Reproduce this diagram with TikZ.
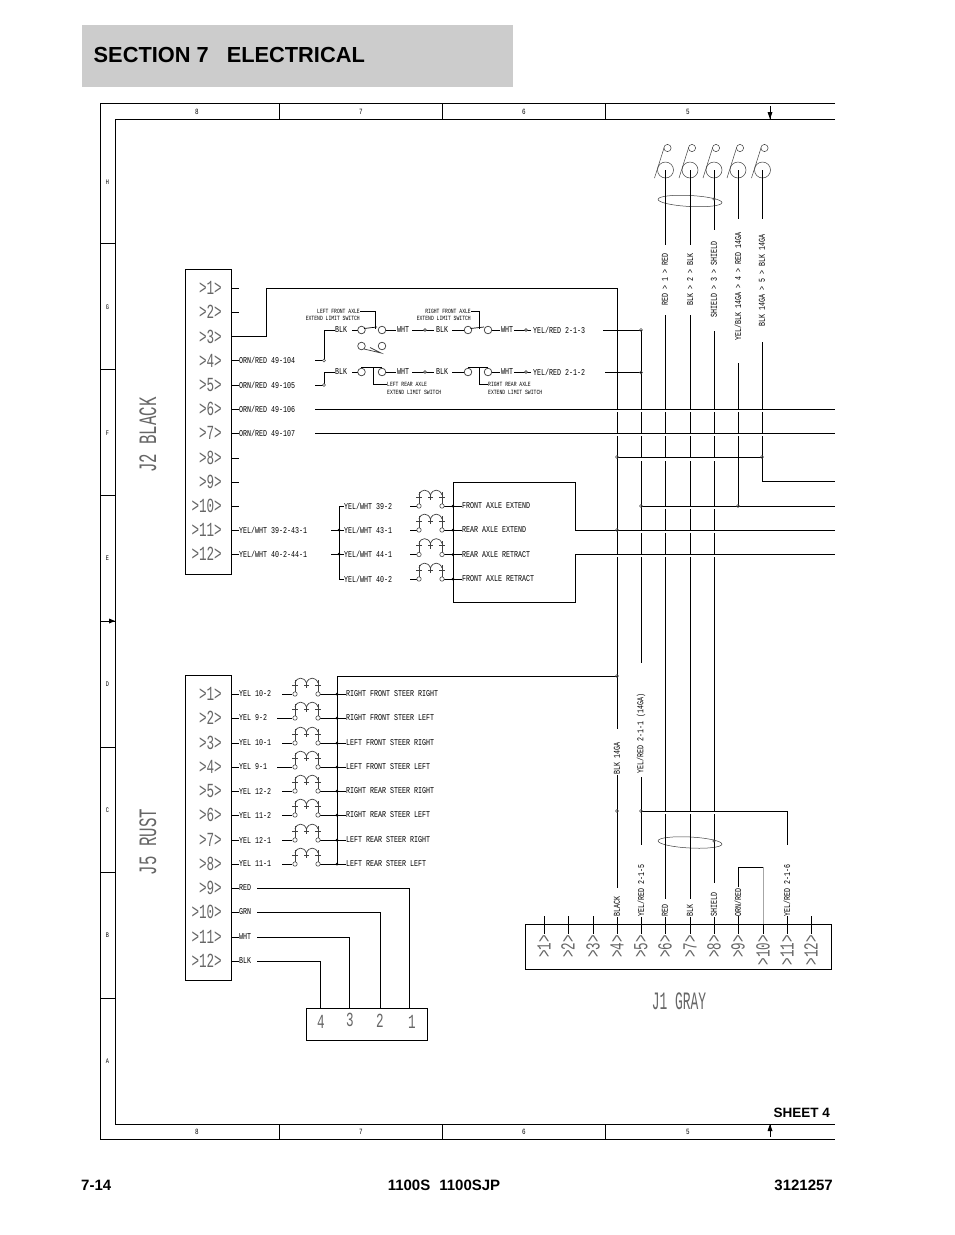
\documentclass[tikz,border=0pt]{standalone}
\usepackage{fontspec}
\setmainfont{Liberation Sans}
\newfontfamily\cadS[FakeStretch=0.74]{Liberation Mono}
\newfontfamily\cadP[FakeStretch=0.63]{Liberation Mono}
\tikzset{
  wire/.style={line width=0.9pt,black},
  frameline/.style={line width=0.9pt,black},
  halo/.style={line width=2.4pt,white},
  thinline/.style={line width=0.5pt,black!75},
  dotm/.style={line width=0.6pt,black!70,fill=white},
  lab/.style={inner sep=0pt,anchor=west,font=\cadS\fontsize{9}{9}\selectfont,text=black},
  labv/.style={inner sep=0pt,anchor=west,rotate=90,font=\cadS\fontsize{9}{9}\selectfont,text=black},
  tiny/.style={inner sep=0pt,font=\cadS\fontsize{6.4}{6.4}\selectfont,text=black},
  pinlab/.style={inner sep=0pt,anchor=east,font=\cadP\fontsize{20}{20}\selectfont,text=black!60},
  pinlabv/.style={inner sep=0pt,anchor=east,rotate=90,font=\cadP\fontsize{20}{20}\selectfont,text=black!60},
  biglab/.style={inner sep=0pt,font=\cadP\fontsize{25}{25}\selectfont,text=black!60},
  ticklab/.style={inner sep=0pt,font=\cadS\fontsize{8}{8}\selectfont,text=black},
  foot/.style={inner sep=0pt,font=\bfseries\fontsize{15}{15}\selectfont},
}
% coil symbol: #1 left x, #2 right x, #3 y
\newcommand{\coilsym}[3]{%
  \draw[thinline,line width=0.7pt] (#1,#3) -- (#1,#3-14) (#2,#3) -- (#2,#3-14)
    (#1-3,#3-9) -- (#1+3,#3-9) (#2-3,#3-9) -- (#2+3,#3-9);
  \draw[thinline,line width=0.7pt] (#1,#3-11) .. controls (#1+2,#3-17.5) and (#1+9,#3-17.5) .. ({(#1+#2)/2},#3-11)
     .. controls ({(#1+#2)/2+2},#3-17.5) and (#2-2,#3-17.5) .. (#2,#3-11);
  \draw[thinline,line width=0.7pt] ({(#1+#2)/2},#3-12) -- ({(#1+#2)/2},#3-6) ({(#1+#2)/2-2.5},#3-9) -- ({(#1+#2)/2+2.5},#3-9);
  \draw[dotm] (#1,#3) circle[radius=2.2pt] (#2,#3) circle[radius=2.2pt];
}
% terminal loop at the top: #1 x
\newcommand{\loopsym}[1]{%
  \draw[thinline] (#1,170) circle[radius=8pt] (#1+2,148) circle[radius=3.6pt];
  \draw[thinline] (#1-1.5,148) -- (#1-11,178);
}
\begin{document}
\begin{tikzpicture}[x=1pt,y=-1pt]
\useasboundingbox (0,0) rectangle (954,1235);
\fill[white] (0,0) rectangle (954,1235);
% header
\fill[black!20] (82,25) rectangle (513,87);
\node[inner sep=0pt,anchor=base west,font=\bfseries\fontsize{21.8}{22}\selectfont] (title) at (93.5,62.5) {SECTION 7\hspace{18pt}ELECTRICAL};
% footer
\node[foot,anchor=base west] (fpage) at (81,1190) {7-14};
\node[foot,anchor=base] (fmodel) at (444,1190) {1100S\hspace{9pt}1100SJP};
\node[foot,anchor=base east] (fnum) at (833,1190) {3121257};
\node[inner sep=0pt,anchor=base east,font=\bfseries\fontsize{13.5}{13.5}\selectfont] (sheet) at (830,1117) {SHEET 4};
% drawing frame
\draw[frameline] (835,103) -- (100,103) -- (100,1139) -- (835,1139);
\draw[frameline] (835,119) -- (115,119) -- (115,1124) -- (835,1124);
\foreach \x in {279,442,605}{\draw[frameline] (\x,103) -- (\x,119); \draw[frameline] (\x,1124) -- (\x,1139);}
\foreach \y in {243,369,495,621,747,872,998}{\draw[frameline] (100,\y) -- (115,\y);}
\draw[frameline] (770,106) -- (770,119);
\fill (767.5,112) -- (772.5,112) -- (770,119) -- cycle;
\draw[frameline] (770,1124) -- (770,1137);
\fill (767.5,1131) -- (772.5,1131) -- (770,1124) -- cycle;
\fill (115,621) -- (109,618.5) -- (109,623.5) -- cycle;
\foreach \x/\t in {197/8,361/7,524/6,688/5}{
  \node[ticklab] at (\x,111.5) {\t};
  \node[ticklab] at (\x,1131.5) {\t};
}
\foreach \y/\t in {182/H,307/G,433/F,558/E,684/D,810/C,935/B,1061/A}{
  \node[ticklab,font=\cadS\fontsize{7}{7}\selectfont] at (107.5,\y) {\t};
}
% J2 connector
\draw[frameline] (185,269) rectangle (231,574);
\foreach \n/\y in {1/288,2/312,3/336.5,4/360.5,5/385,6/409,7/433,8/458,9/482,10/506,11/530,12/554}{
  \node[pinlab] (jtwo\n) at (222,\y) {>\n>};
  \coordinate (jtwoS\n) at (231,\y);
  \coordinate (jtwoE\n) at (239,\y);
  \draw[wire] (jtwoS\n) -- (jtwoE\n);
}
\node[biglab,rotate=90] (jtwoname) at (148,435) {J2 BLACK};
\foreach \n/\t in {4/{ORN/RED 49-104},5/{ORN/RED 49-105},6/{ORN/RED 49-106},7/{ORN/RED 49-107},11/{YEL/WHT 39-2-43-1},12/{YEL/WHT 40-2-44-1}}{
  \node[lab] (jtwol\n) at (jtwoE\n) {\t};
}
% J5 connector
\draw[frameline] (185,675) rectangle (231,980);
\foreach \n/\y in {1/694,2/718,3/743,4/767,5/791,6/815,7/840,8/864,9/888,10/912,11/937,12/961}{
  \node[pinlab] (jfive\n) at (222,\y) {>\n>};
  \coordinate (jfiveS\n) at (231,\y);
  \coordinate (jfiveE\n) at (239,\y);
  \draw[wire] (jfiveS\n) -- (jfiveE\n);
}
\node[biglab,rotate=90] (jfivename) at (148,842) {J5 RUST};
% J5 solenoid rows
\coordinate (sb) at (337,676);
\foreach \n/\y/\s/\a/\b in {1/694/282/YEL 10-2/RIGHT FRONT STEER RIGHT,2/718/277/YEL 9-2/RIGHT FRONT STEER LEFT,3/743/282/YEL 10-1/LEFT FRONT STEER RIGHT,4/767/277/YEL 9-1/LEFT FRONT STEER LEFT,5/791/282/YEL 12-2/RIGHT REAR STEER RIGHT,6/815/282/YEL 11-2/RIGHT REAR STEER LEFT,7/840/282/YEL 12-1/LEFT REAR STEER RIGHT,8/864/282/YEL 11-1/LEFT REAR STEER LEFT}{
  \node[lab] (fl\n) at (239,\y) {\a};
  \node[lab] (fr\n) at (346,\y) {\b};
  \coordinate (fb\n) at (337,\y);
  \draw[wire] (\s,\y) -- (292,\y);
  \draw[wire] (320,\y) -- (fb\n) -- (fr\n.west);
  \fill (fb\n) circle[radius=1.5pt];
  \coilsym{295}{318}{\y}
}
\draw[wire] (fb8) -- (sb) -- (617,676);
% J5 lower wires to 4-way connector
\draw[frameline] (306,1008) rectangle (427,1040);
\foreach \x/\y/\t in {321/1022/4,350/1020/3,380/1021/2,412/1022/1}{
  \node[inner sep=0pt,font=\cadP\fontsize{20}{20}\selectfont,text=black!60] (cf\t) at (\x,\y) {\t};
}
\foreach \n/\y/\x/\t in {9/888/409/RED,10/912/380/GRN,11/937/349/WHT,12/961/320/BLK}{
  \node[lab] (jfl\n) at (239,\y) {\t};
  \draw[wire] (257,\y) -- (\x,\y) -- (\x,1008);
}
% switches
\coordinate (sa) at (324,360.5);
\coordinate (sc) at (324,385);
\draw[wire] (315,360.5) -- (sa) -- (324,330) -- (335,330);
\draw[wire] (315,385) -- (sc) -- (324,372) -- (335,372);
\draw[dotm] (sa) circle[radius=1.5pt] (sc) circle[radius=1.5pt];
\foreach \y/\m in {330/3,372/2}{
  \node[lab] (ba\y) at (335,\y) {BLK};
  \node[lab] (wa\y) at (397,\y) {WHT};
  \node[lab] (bb\y) at (436,\y) {BLK};
  \node[lab] (wb\y) at (501,\y) {WHT};
  \node[lab] (yr\y) at (533,\y) {YEL/RED 2-1-\m};
  \draw[wire] (352,\y) -- (358,\y) (386,\y) -- (395.5,\y);
  \draw[wire] (412,\y) -- (433.5,\y);
  \draw[dotm] (425,\y) circle[radius=1.4pt];
  \draw[wire] (452,\y) -- (464,\y) (492,\y) -- (500,\y);
  \draw[wire] (514,\y) -- (531,\y);
  \draw[dotm] (526,\y) circle[radius=1.4pt];
  \draw[thinline,line width=0.7pt] (361.5,\y) circle[radius=3.8pt] (382,\y) circle[radius=3.8pt] (468,\y) circle[radius=3.8pt] (488,\y) circle[radius=3.8pt];
}
\draw[wire,line width=0.7pt] (364,328.5) -- (377,327) (470.5,328.5) -- (484,327);
\draw[wire,line width=0.7pt] (361,367.7) -- (382,367.7) (468,367.7) -- (488,367.7);
\draw[thinline,line width=0.7pt] (361.5,346) circle[radius=3.8pt] (382,346) circle[radius=3.8pt];
\draw[thinline,line width=0.7pt] (364,349) -- (381,353) -- (370,347.5);
% limit switch labels and leaders
\node[tiny,anchor=east] (s1a) at (360,311) {LEFT FRONT AXLE};
\node[tiny,anchor=east] (s1b) at (360,318.5) {EXTEND LIMIT SWITCH};
\node[tiny,anchor=east] (s2a) at (471,311) {RIGHT FRONT AXLE};
\node[tiny,anchor=east] (s2b) at (471,318.5) {EXTEND LIMIT SWITCH};
\node[tiny,anchor=west] (s3a) at (387,384) {LEFT REAR AXLE};
\node[tiny,anchor=west] (s3b) at (387,392) {EXTEND LIMIT SWITCH};
\node[tiny,anchor=west] (s4a) at (488,384) {RIGHT REAR AXLE};
\node[tiny,anchor=west] (s4b) at (488,392) {EXTEND LIMIT SWITCH};
\draw[wire,line width=0.7pt] (s1a.east) -- (375,311) -- (375,327);
\draw[wire,line width=0.7pt] (s2a.east) -- (479,311) -- (479,327);
\draw[wire,line width=0.7pt] (s3a.west) -- (373,384) -- (373,368);
\draw[wire,line width=0.7pt] (s4a.west) -- (479,384) -- (479,368);
\draw[wire,line width=0.7pt] (375,325) -- (375,329) (479,325) -- (479,329);
% axle block coils
\draw[wire] (339,506) -- (339,579);
\draw[wire] (331,530) -- (339,530) (331,554) -- (339,554);
\fill (339,530) circle[radius=1.3pt] (339,554) circle[radius=1.3pt];
\foreach \y/\a/\b in {506/{YEL/WHT 39-2}/FRONT AXLE EXTEND,530/{YEL/WHT 43-1}/REAR AXLE EXTEND,554.5/{YEL/WHT 44-1}/REAR AXLE RETRACT,579/{YEL/WHT 40-2}/FRONT AXLE RETRACT}{
  \draw[wire] (339,\y) -- (344,\y);
  \node[lab] at (344,\y) {\a};
  \node[lab] at (462,\y) {\b};
  \draw[wire] (410,\y) -- (417,\y) (444,\y) -- (462,\y);
  \fill (453,\y) circle[radius=1.5pt];
  \coilsym{419}{442}{\y}
}
% top terminal loops
\foreach \x in {665.5,690,714,738,762.5}{\loopsym{\x}}
\draw[thinline,rotate around={-3:(690,201)}] (690,201) circle[x radius=32pt,y radius=5.5pt];
\draw[thinline,rotate around={-3:(690,842.5)}] (690,842.5) circle[x radius=32pt,y radius=5.5pt];
% vertical harness
\coordinate (vA) at (617,288);
\coordinate (vB) at (641,330);
\draw[wire] (266,336.5) -- (266,288) -- (vA) -- (617,729);
\draw[wire] (231,336.5) -- (266,336.5);
\draw[wire] (617,775) -- (617,888);
\draw[wire] (617,917) -- (617,934);
\draw[wire] (vB) -- (641,663) (641,777) -- (641,845) (641,917) -- (641,934);
\draw[wire] (665,170) -- (665,245) (665,315) -- (665,899) (665,917) -- (665,934);
\draw[wire] (690,170) -- (690,245) (690,315) -- (690,899) (690,917) -- (690,934);
\draw[wire] (714,170) -- (714,230) (714,331) -- (714,883) (714,917) -- (714,934);
\draw[wire] (738,170) -- (738,219) (738,363) -- (738,506);
\draw[wire] (762,170) -- (762,219) (762,342) -- (762,481) -- (835,481);
% crossing gaps
\draw[halo] (600,410.5) -- (775,410.5) (600,434.5) -- (775,434.5);
\draw[halo] (620,459.5) -- (725,459.5);
\draw[halo] (645,507.5) -- (725,507.5);
\draw[halo] (620,531.5) -- (725,531.5);
\draw[halo] (600,555.5) -- (725,555.5);
\draw[halo] (645,812.5) -- (725,812.5);
% horizontal harness lines
\draw[frameline] (835,530) -- (575,530) -- (575,482) -- (453,482) -- (453,602) -- (575,602) -- (575,554) -- (835,554);
\draw[wire] (315,409) -- (835,409) (315,433) -- (835,433);
\draw[wire] (617,457) -- (762,457);
\draw[wire] (641,506) -- (835,506);
\draw[wire] (603,330) -- (vB) (605,372.5) -- (641,372.5);
\draw[wire] (641,811) -- (787,811) -- (787,845);
\foreach \x/\y in {641/330,641/372.5,617/457,762/457,641/506,738/506,617/530,617/676,617/811,641/811}{
  \draw[dotm,fill=none] (\x,\y) circle[radius=1.5pt];
}
\draw[dotm,fill=none] (714,199) circle[radius=1.3pt] (714,841) circle[radius=1.3pt];
% vertical labels
\foreach \x/\y/\t in {665/306/RED > 1 > RED,690/306/BLK > 2 > BLK,714/318/SHIELD > 3 > SHIELD,738/341/{YEL/BLK 14GA > 4 > RED 14GA},762/327/BLK 14GA > 5 > BLK 14GA,617/775/BLK 14GA,641/774/{YEL/RED 2-1-1 (14GA)},617/917/BLACK,641/917/{YEL/RED 2-1-5},665/917/RED,690/917/BLK,714/917/SHIELD,738/917/{ORN/RED},787/917/{YEL/RED 2-1-6}}{
  \node[labv] at (\x,\y) {\t};
}
% ORN/RED jumper
\draw[wire] (738,887) -- (738,867) -- (763,867);
\draw[line width=0.8pt,black!35] (763,867) -- (763,924);
% J1 connector
\draw[frameline] (525,924) rectangle (831,969);
\foreach \n/\x in {1/544,2/568,3/593,4/617,5/641,6/665,7/690,8/714,9/738,10/763,11/787,12/811}{
  \node[pinlabv] (jone\n) at (\x,935) {>\n>};
  \draw[wire] (\x,924) -- (\x,934);
}
\foreach \x in {544,568,593,738,787,811}{\draw[wire] (\x,916) -- (\x,924);}
\node[biglab] (jonename) at (679,1001) {\scalebox{0.82}[1]{J1 GRAY}};
\end{tikzpicture}
\end{document}
